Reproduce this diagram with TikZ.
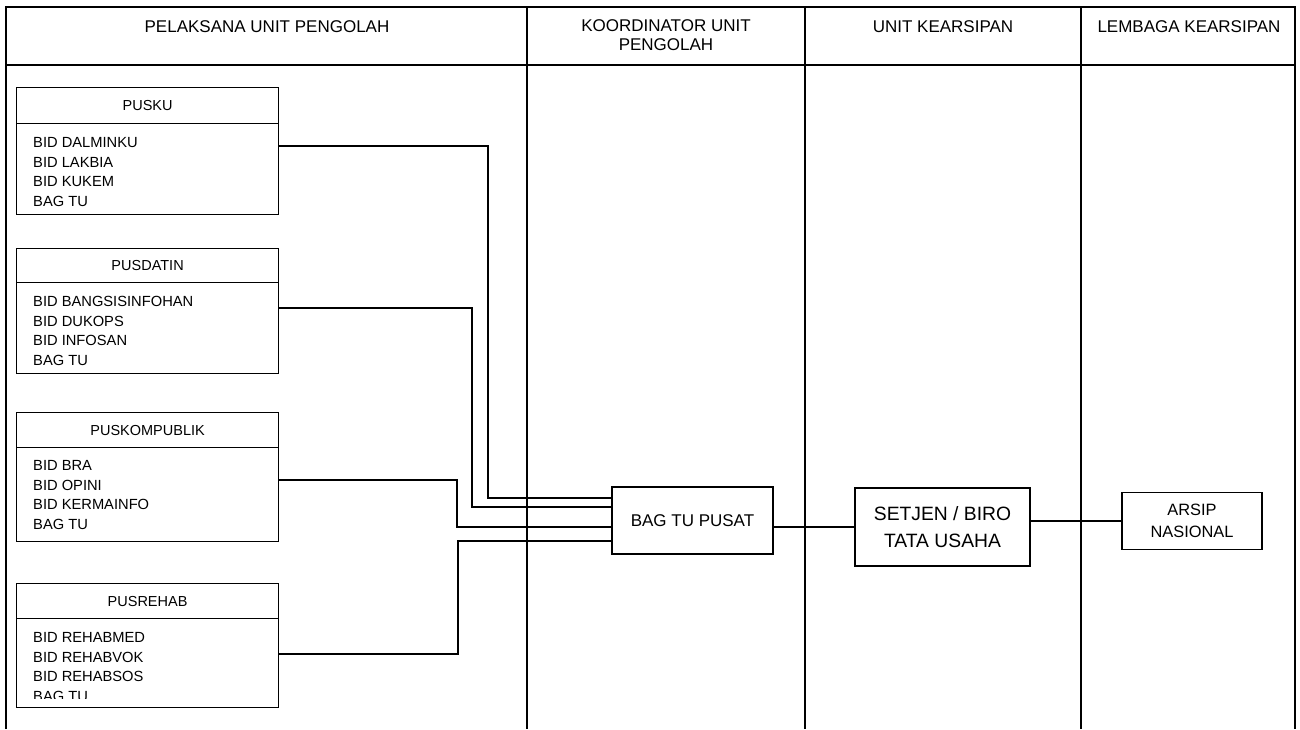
\documentclass[tikz,border=0pt]{standalone}
\usepackage{fontspec}
\setmainfont{Liberation Sans}
\usetikzlibrary{calc}
\begin{document}
\begin{tikzpicture}[x=1pt,y=-1pt,
  frame/.style={line width=1.5pt},
  link/.style={line width=1.2pt},
  hdr/.style={font=\fontsize{17}{19.5}\selectfont, align=center, inner sep=0},
  unithead/.style={draw, line width=1.2pt, minimum width=262pt, minimum height=36pt,
    inner sep=0, anchor=north west, font=\fontsize{14.5}{17}\selectfont},
  unitbody/.style={draw, line width=1.2pt, minimum width=262pt, inner sep=0, anchor=north west},
  lst/.style={font=\fontsize{14.7}{19.7}\selectfont, align=left, anchor=north west, inner sep=0},
  flowbox/.style={draw, line width=1.2pt, inner sep=0, align=center}
]
\useasboundingbox (0,0) rectangle (1300,729);

% swimlane frame
\draw[frame] (6,729) -- (6,7) -- (1295,7) -- (1295,729);
\draw[frame] (6,65) -- (1295,65);
\draw[frame] (527,7) -- (527,729);
\draw[frame] (805,7) -- (805,729);
\draw[frame] (1081,7) -- (1081,729);

% lane headings
\node[hdr, anchor=base] (h1) at (267,32) {PELAKSANA UNIT PENGOLAH};
\node[hdr] (h2) at (666,35) {KOORDINATOR UNIT\\PENGOLAH};
\node[hdr, anchor=base] (h3) at (943,32) {UNIT KEARSIPAN};
\node[hdr, anchor=base] (h4) at (1189,32) {LEMBAGA KEARSIPAN};

% PUSKU
\node[unithead] (t1) at (16,87) {PUSKU};
\node[unitbody, minimum height=91pt] (b1) at (16,123) {};
\node[lst] (l1) at (33,137) {BID DALMINKU\\BID LAKBIA\\BID KUKEM\\BAG TU};

% PUSDATIN
\node[unithead, minimum height=34pt] (t2) at (16,248) {PUSDATIN};
\node[unitbody, minimum height=91pt] (b2) at (16,282) {};
\node[lst] (l2) at (33,296) {BID BANGSISINFOHAN\\BID DUKOPS\\BID INFOSAN\\BAG TU};

% PUSKOMPUBLIK
\node[unithead, minimum height=35pt] (t3) at (16,412) {PUSKOMPUBLIK};
\node[unitbody, minimum height=94pt] (b3) at (16,447) {};
\node[lst] (l3) at (33,460) {BID BRA\\BID OPINI\\BID KERMAINFO\\BAG TU};

% PUSREHAB (last entry cut off by the box)
\node[unithead, minimum height=35pt] (t4) at (16,583) {PUSREHAB};
\node[unitbody, minimum height=89pt] (b4) at (16,618) {};
\begin{scope}
  \clip (16,618) rectangle (278,698);
  \node[lst] (l4) at (33,632) {BID REHABMED\\BID REHABVOK\\BID REHABSOS\\BAG TU};
\end{scope}

% processing chain
\node[flowbox, minimum width=161pt, minimum height=67pt, font=\fontsize{17}{20}\selectfont]
  (bag) at (692.5,520.5) {BAG TU PUSAT};
\node[flowbox, minimum width=175pt, minimum height=78pt, font=\fontsize{19.3}{27}\selectfont]
  (setjen) at (942.5,527) {SETJEN / BIRO\\TATA USAHA};
\node[flowbox, minimum width=140pt, minimum height=57pt, font=\fontsize{16.4}{22}\selectfont]
  (arsip) at (1192,521) {ARSIP\\NASIONAL};

% connectors from the units
\draw[link] ($(b1.north east)+(0,23)$) -| (488,498) -- (bag.west |- 0,498);
\draw[link] ($(b2.north east)+(0,26)$) -| (472,507) -- (bag.west |- 0,507);
\draw[link] ($(b3.north east)+(0,33)$) -| (457,527) -- (bag.west |- 0,527);
\draw[link] ($(b4.north east)+(0,36)$) -| (458,541) -- (bag.west |- 0,541);

\draw[link] (bag.east |- setjen.west) -- (setjen.west);
\draw[link] (setjen.east |- arsip.west) -- (arsip.west);
\end{tikzpicture}
\end{document}
